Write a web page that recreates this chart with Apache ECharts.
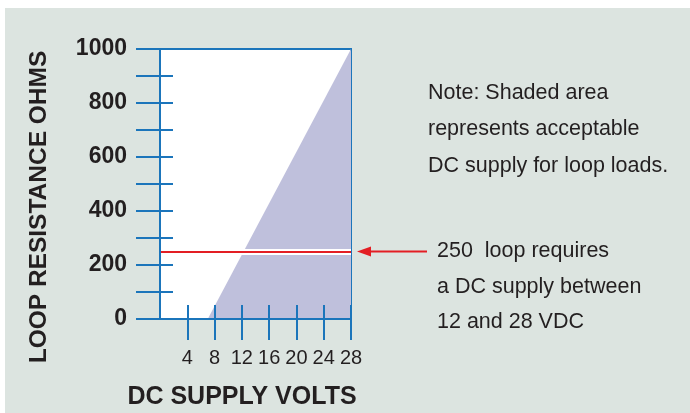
<!DOCTYPE html>
<html>
<head>
<meta charset="utf-8">
<script src="https://cdn.jsdelivr.net/npm/echarts@6/dist/echarts.min.js"></script>
<style>
  html, body { margin: 0; padding: 0; background: #fff; }
  #container { width: 690px; height: 413px; }
</style>
</head>
<body>
<div id="container"></div>
<script>
// data
var voltTicks = [4, 8, 12, 16, 20, 24, 28];
var ohmLabels = [0, 200, 400, 600, 800, 1000];
var shadedEdge = [[7, 0], [28, 1000]];   // lower-right area = acceptable
var loopOhms = 250;
var noteLines = ['Note: Shaded area', 'represents acceptable', 'DC supply for loop loads.'];
var calloutLines = ['250  loop requires', 'a DC supply between', '12 and 28 VDC'];

var blue = '#1b75bb';
var ink = '#231f20';
var red = '#e31e24';

var dom = document.getElementById('container');
var myChart = echarts.init(dom);

var plain = function (v) { return String(v); };

var option = {
    backgroundColor: '#fff',
    animation: false,
    grid: {
        left: 160, right: 339, top: 49, bottom: 94,
        show: true, backgroundColor: '#fff', borderColor: blue, borderWidth: 2
    },
    xAxis: [{
        type: 'value', position: 'bottom', min: 0, max: 28, interval: 4, z: 5,
        axisLine: { onZero: false, lineStyle: { color: blue, width: 2 } },
        axisTick: { length: 21, lineStyle: { color: blue, width: 2 }, customValues: voltTicks },
        axisLabel: {
            customValues: voltTicks, margin: 29, color: ink, fontSize: 20, formatter: plain,
            fontFamily: 'Liberation Sans Narrow, Arial Narrow, Liberation Sans, sans-serif'
        },
        splitLine: { show: false }
    }, {
        type: 'value', position: 'bottom', min: 0, max: 28, interval: 4, z: 5,
        axisLine: { show: false },
        axisTick: { inside: true, length: 14, lineStyle: { color: blue, width: 2 }, customValues: voltTicks },
        axisLabel: { show: false },
        splitLine: { show: false }
    }],
    yAxis: [{
        type: 'value', position: 'left', min: 0, max: 1000, interval: 100, z: 5,
        axisLine: { show: true, onZero: false, lineStyle: { color: blue, width: 2 } },
        axisTick: { show: true, length: 24, lineStyle: { color: blue, width: 2 } },
        axisLabel: {
            customValues: ohmLabels, margin: 33, formatter: plain, padding: [4, 0, 0, 0],
            color: ink, fontSize: 23, fontWeight: 'bold', fontFamily: 'Liberation Sans, Arial, sans-serif'
        },
        splitLine: { show: false }
    }, {
        type: 'value', position: 'left', min: 0, max: 1000, interval: 100, z: 5,
        axisLine: { show: false },
        axisTick: { show: true, inside: true, length: 13, lineStyle: { color: blue, width: 2 } },
        axisLabel: { show: false },
        splitLine: { show: false }
    }],
    series: [{
        type: 'line',
        data: shadedEdge,
        symbol: 'none',
        lineStyle: { width: 0 },
        areaStyle: { color: '#bfc0dc', opacity: 1, origin: 'start' },
        z: 1,
        markLine: {
            symbol: 'none', silent: true, label: { show: false },
            data: [
                { yAxis: loopOhms, lineStyle: { color: '#fff', width: 6, type: 'solid' } },
                { yAxis: loopOhms, lineStyle: { color: red, width: 2, type: 'solid' } }
            ]
        }
    }]
};

myChart.setOption(option);

// annotations outside the plot
var yLoop = myChart.convertToPixel({ yAxisIndex: 0 }, loopOhms);
var xRight = myChart.convertToPixel({ xAxisIndex: 0 }, 28);
var graphics = [{
    type: 'rect', z: -10, silent: true,
    shape: { x: 5, y: 8, width: 685, height: 405 },
    style: { fill: '#dce4e0' }
}, {
    type: 'text', x: 242, y: 397,
    style: { text: 'DC SUPPLY VOLTS', fill: ink, font: 'bold 25px Liberation Sans, Arial, sans-serif', textAlign: 'center', textVerticalAlign: 'middle' }
}, {
    type: 'text', x: 39, y: 207, rotation: Math.PI / 2,
    style: { text: 'LOOP RESISTANCE OHMS', fill: ink, font: 'bold 24.5px Liberation Sans, Arial, sans-serif', textAlign: 'center', textVerticalAlign: 'middle' }
}, {
    type: 'line',
    shape: { x1: xRight + 18, y1: yLoop, x2: 427, y2: yLoop },
    style: { stroke: red, lineWidth: 2 }
}, {
    type: 'polygon',
    shape: { points: [[xRight + 6, yLoop], [xRight + 20, yLoop - 5], [xRight + 20, yLoop + 5]] },
    style: { fill: red }
}];
noteLines.forEach(function (t, i) {
    graphics.push({
        type: 'text', x: 428, y: 93 + i * 36.5,
        style: { text: t, fill: ink, font: '21.5px Liberation Sans, Arial, sans-serif', textVerticalAlign: 'middle' }
    });
});
calloutLines.forEach(function (t, i) {
    graphics.push({
        type: 'text', x: 437, y: yLoop + i * 35.5,
        style: { text: t, fill: ink, font: '21.5px Liberation Sans, Arial, sans-serif', textVerticalAlign: 'middle' }
    });
});
myChart.setOption({ graphic: graphics });
</script>
</body>
</html>
